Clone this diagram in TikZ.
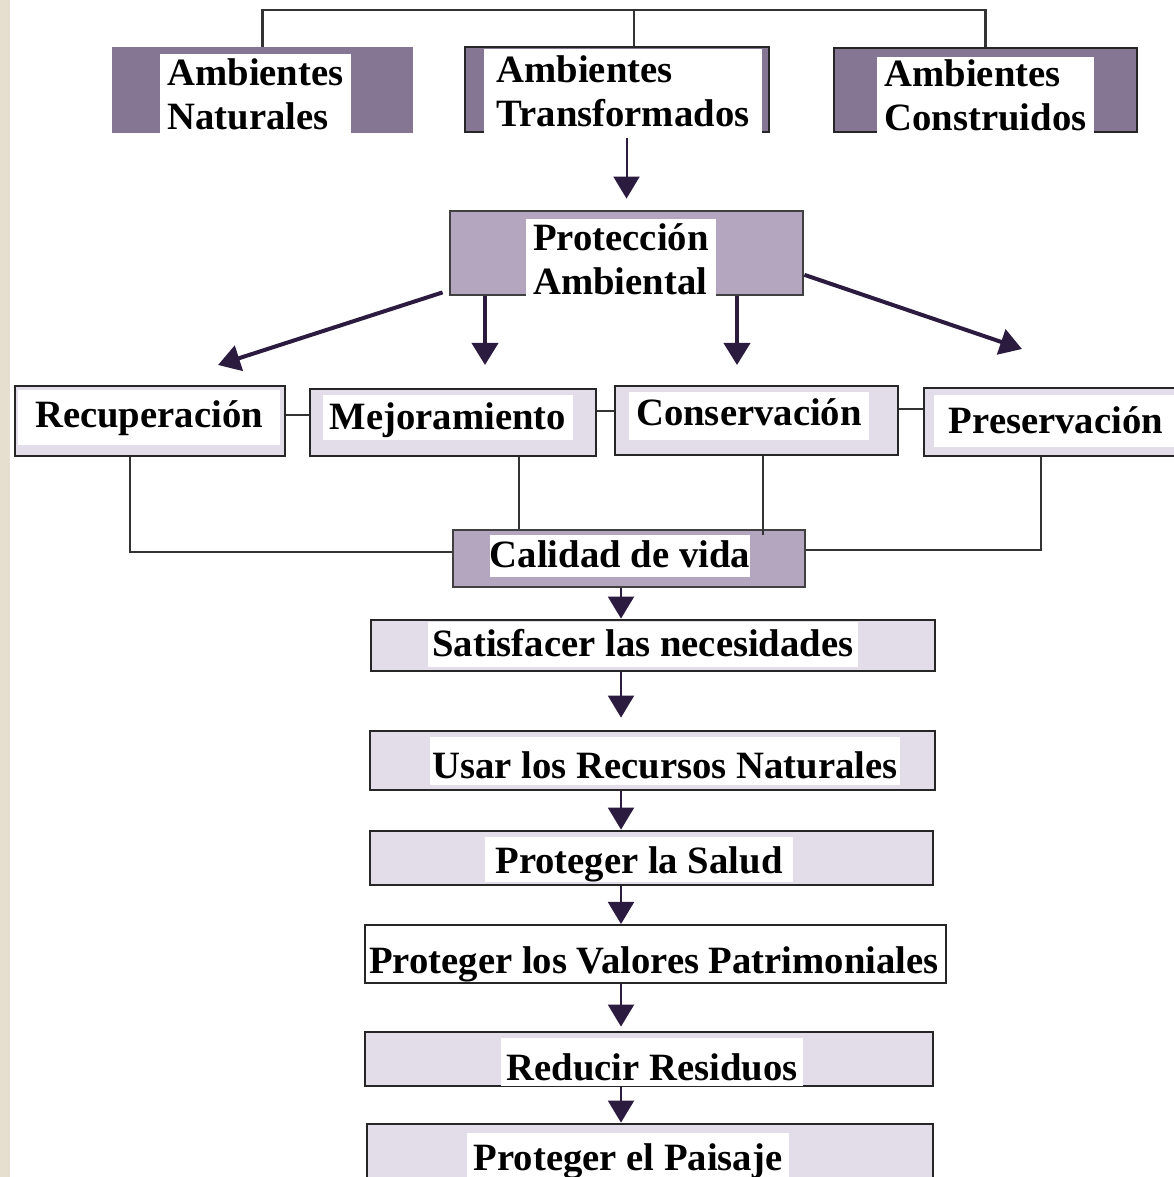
\documentclass[tikz,border=0pt]{standalone}
\usepackage{fontspec}
\setmainfont{Liberation Serif}
\usetikzlibrary{arrows.meta}
\definecolor{darkpurple}{HTML}{857693}
\definecolor{midpurple}{HTML}{B3A6BE}
\definecolor{palepurple}{HTML}{E3DDE9}
\definecolor{headcol}{HTML}{2B1B3F}
\definecolor{bgbeige}{HTML}{E6DFD0}
\begin{document}
\begin{tikzpicture}[x=0.025cm, y=-0.025cm,
    box/.style={draw=black!85, line width=0.07cm, inner sep=0pt},
    txt/.style={fill=white, inner sep=0pt, font=\bfseries\fontsize{27.5}{31.3}\selectfont},
    twoline/.style={txt, align=left},
    lbl/.style n args={3}{txt, anchor=base, minimum width=#1, text height=#2, text depth=#3},
    link/.style={draw=black!80, line width=0.05cm},
    arr/.style={draw=headcol, line width=0.05cm, -{Triangle[length=0.55cm, width=0.65cm]}},
    bigarr/.style={arr, line width=0.1cm}]
        \useasboundingbox (0,0) rectangle (1174,1177);
        \clip (0,0) rectangle (1174,1177);
        \fill[white] (0,0) rectangle (1174,1177);
        \fill[bgbeige] (0,0) rectangle (10,1177);
        % ambientes
        \node[box, draw=darkpurple, fill=darkpurple, minimum width=7.475cm, minimum height=2.1cm] (natbox) at (262.5,90) {};
        \node[twoline, minimum width=4.775cm, minimum height=2cm] (nattxt) at (255.5,94.5) {Ambientes\\Naturales};
        \node[box, fill=darkpurple, minimum width=7.6cm, minimum height=2.125cm] (transfbox) at (617,89.5) {};
        \node[twoline, minimum width=6.95cm, minimum height=2.1cm] (transftxt) at (623,91.5) {Ambientes\\Transformados};
        \node[box, fill=darkpurple, minimum width=7.575cm, minimum height=2.1cm] (constrbox) at (985.5,90) {};
        \node[twoline, minimum width=5.425cm, minimum height=1.925cm] (constrtxt) at (985.5,95.5) {Ambientes\\Construidos};
        \coordinate (top) at (634,10);
        \draw[link, line width=0.06cm] (natbox.north) |- (top) -| (constrbox.north);
        \draw[link, line width=0.06cm] (top) -- (top |- transfbox.north);
        % proteccion
        \node[box, draw=black!75, fill=midpurple, minimum width=8.825cm, minimum height=2.1cm] (protbox) at (626.5,253) {};
        \node[twoline, minimum width=4.75cm, minimum height=2cm] (prottxt) at (621,259.5) {Protección\\Ambiental};
        \draw[arr, shorten <=0.125cm, shorten >=0.275cm] (transfbox.south -| protbox.north) -- (protbox.north);
        % acciones
        \node[box, fill=palepurple, minimum width=6.75cm, minimum height=1.75cm] (recbox) at (150,421) {};
        \node[lbl={6.55cm}{0.925cm}{0.45cm}] (rectxt) at (149,427) {Recuperación};
        \node[box, fill=palepurple, minimum width=7.15cm, minimum height=1.675cm] (mejbox) at (453,422.5) {};
        \node[lbl={6.25cm}{0.85cm}{0.275cm}] (mejtxt) at (448,429) {Mejoramiento};
        \node[box, fill=palepurple, minimum width=7.075cm, minimum height=1.725cm] (conservbox) at (756.5,420.5) {};
        \node[lbl={6cm}{0.825cm}{0.375cm}] (conservtxt) at (749,425) {Conservación};
        \node[box, fill=palepurple, minimum width=6.65cm, minimum height=1.7cm] (presbox) at (1057,422) {};
        \node[lbl={6.1cm}{0.95cm}{0.35cm}] (prestxt) at (1056,433) {Preservación};
        \coordinate (tiprec) at (218,365);
        \coordinate (tipmej) at (485,365);
        \coordinate (tipcons) at (737,365);
        \coordinate (tippres) at (1022,349);
        \draw[bigarr] ([xshift=-0.15cm, yshift=0.1cm]protbox.south west) -- (tiprec);
        \draw[bigarr] (protbox.south -| tipmej) -- (tipmej);
        \draw[bigarr] (protbox.south -| tipcons) -- (tipcons);
        \draw[bigarr] (protbox.-7) -- (tippres);
        \coordinate (rm) at ([yshift=0.15cm]recbox.east);
        \coordinate (mc) at ([yshift=0.29cm]mejbox.east);
        \coordinate (cp) at ([yshift=0.29cm]conservbox.east);
        \draw[link] (rm) -- (rm -| mejbox.west);
        \draw[link] (mc) -- (mc -| conservbox.west);
        \draw[link] (cp) -- (cp -| presbox.west);
        % calidad de vida
        \node[box, draw=black!75, fill=midpurple, minimum width=8.8cm, minimum height=1.425cm] (calbox) at (629,558.5) {};
        \node[lbl={6.5cm}{0.8cm}{0.25cm}] (caltxt) at (620,567) {Calidad de vida};
        \coordinate (mejdrop) at ([xshift=1.65cm]mejbox.south);
        \coordinate (conservdrop) at ([xshift=0.16cm]conservbox.south);
        \draw[link] ([xshift=-0.5cm]recbox.south) |- ([yshift=0.16cm]calbox.west);
        \draw[link] (mejdrop) -- (mejdrop |- calbox.north);
        \draw[link] (conservdrop) -- ([yshift=-0.15cm]conservdrop |- calbox.north);
        \draw[link] ([xshift=-0.4cm]presbox.south) |- ([yshift=0.21cm]calbox.east);
        % metas
        \node[box, fill=palepurple, minimum width=14.1cm, minimum height=1.275cm] (satbox) at (653,645.5) {};
        \node[lbl={10.725cm}{0.85cm}{0.275cm}] (sattxt) at (643,656) {Satisfacer las necesidades};
        \node[box, fill=palepurple, minimum width=14.125cm, minimum height=1.475cm] (usarbox) at (652.5,760.5) {};
        \node[lbl={11.725cm}{1.025cm}{0.175cm}] (usartxt) at (665,778) {Usar los Recursos Naturales};
        \node[box, fill=palepurple, minimum width=14.075cm, minimum height=1.35cm] (saludbox) at (651.5,858) {};
        \node[lbl={7.675cm}{0.9cm}{0.225cm}] (saludtxt) at (639,873) {Proteger la Salud};
        \node[box, fill=white, line width=0.05cm, minimum width=14.525cm, minimum height=1.45cm] (valbox) at (655.5,954) {};
        \node[txt, fill=none, anchor=base] (valtxt) at (654,973) {Proteger los Valores Patrimoniales};
        \node[box, fill=palepurple, minimum width=14.2cm, minimum height=1.35cm] (redbox) at (649,1059) {};
        \node[lbl={7.55cm}{1.05cm}{0.15cm}] (redtxt) at (652,1080) {Reducir Residuos};
        \node[box, fill=palepurple, minimum width=14.15cm, minimum height=2.15cm] (paisbox) at (650,1167) {};
        \node[lbl={8.025cm}{0.925cm}{1cm}] (paistxt) at (628,1170) {Proteger el Paisaje};
        \coordinate (spine) at (621,0);
        \draw[arr] (calbox.south -| spine) -- (satbox.north -| spine);
        \draw[arr, shorten >=0.3cm] (satbox.south -| spine) -- (usarbox.north -| spine);
        \draw[arr] (usarbox.south -| spine) -- (saludbox.north -| spine);
        \draw[arr] (saludbox.south -| spine) -- (valbox.north -| spine);
        \draw[arr] (valbox.south -| spine) -- ([yshift=0.1cm]redbox.north -| spine);
        \draw[arr] (redbox.south -| spine) -- (paisbox.north -| spine);
\end{tikzpicture}
\end{document}
